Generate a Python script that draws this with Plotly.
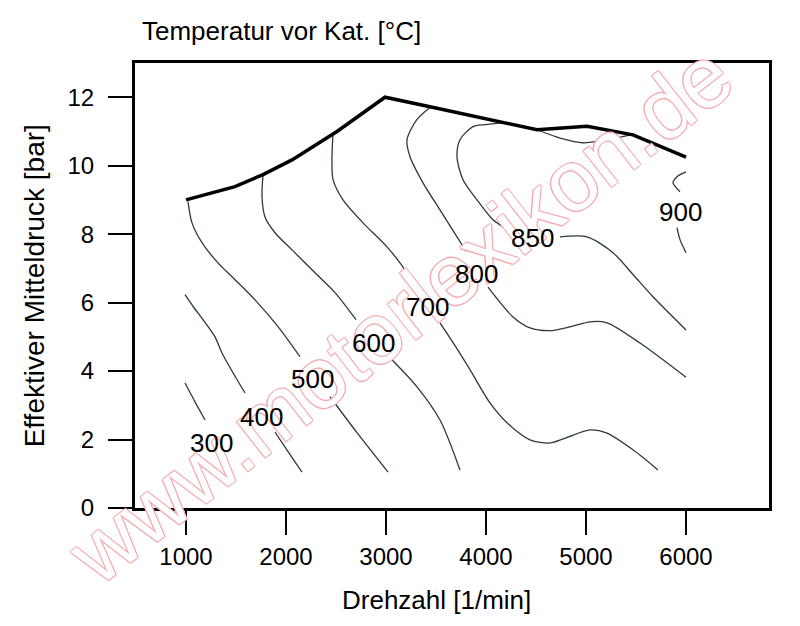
import plotly.graph_objects as go

# Kennfeld: Abgastemperatur vor Katalysator
# Volllastlinie
vl_rpm = [1000, 1490, 1770, 2060, 2510, 2990, 3440, 4510, 5010, 5470, 6000]
vl_bar = [9.0, 9.39, 9.74, 10.17, 11.0, 12.0, 11.72, 11.05, 11.15, 10.9, 10.25]

# Isothermen (None = Lücke für Beschriftung)
c300_rpm = [990, 1090, 1190, None, 1390, 1460]
c300_bar = [3.65, 3.1, 2.57, None, 1.4, 1.05]

c400_rpm = [990, 1080, 1170, 1290, 1360, 1470, 1590, None, 1890, 2020, 2160]
c400_bar = [6.23, 5.85, 5.5, 5.0, 4.53, 3.95, 3.36, None, 2.22, 1.65, 1.05]

c500_rpm = [1020, 1060, 1160, 1320, 1490, 1690, 1920, 2140, None, 2440, 2710, 3020]
c500_bar = [8.95, 8.33, 7.75, 7.16, 6.67, 6.08, 5.3, 4.42, None, 3.25, 2.2, 1.05]

c600_rpm = [1770, 1760, 1790, 1890, 2060, 2290, 2490, 2700, None, 3040, 3310, 3540, 3740]
c600_bar = [9.72, 9.1, 8.5, 8.04, 7.54, 6.87, 6.29, 5.5, None, 4.39, 3.54, 2.57, 1.11]

c700_rpm = [2470, 2460, 2470, 2570, 2770, 3010, 3210, 3280, None, 3540, 3700, 3840,
            4040, 4210, 4440, 4640, 4800, 5040, 5210, 5470, 5720]
c700_bar = [10.93, 10.26, 9.6, 9.0, 8.33, 7.63, 6.87, 6.5, None, 5.41, 4.7, 4.04,
            3.07, 2.49, 1.99, 1.9, 2.05, 2.28, 2.19, 1.7, 1.11]

c800_rpm = [3440, 3310, 3210, 3240, 3370, 3540, 3710, 3800, None, 4020, 4270, 4440,
            4640, 4850, 5040, 5210, 5540, 6000]
c800_bar = [11.7, 11.35, 10.76, 10.26, 9.5, 8.71, 7.92, 7.5, None, 6.45, 5.58, 5.26,
            5.18, 5.3, 5.44, 5.41, 4.82, 3.82]

c850_rpm = [4170, 3990, 3870, 3740, 3710, 3770, 3910, 4070, 4170, None, 4740, 5010,
            5270, 5470, 5670, 6000]
c850_bar = [11.26, 11.2, 11.14, 10.76, 10.26, 9.59, 9.0, 8.42, 8.22, None, 7.92, 7.92,
            7.46, 6.82, 6.17, 5.2]

c850b_rpm = [4510, 4750, 4970, 5200, 5450]
c850b_bar = [11.05, 10.8, 10.67, 10.75, 10.9]

c900_rpm = [6000, 5910, 5870, 5940, None, 5910, 5940, 6000]
c900_bar = [9.82, 9.68, 9.5, 9.24, None, 8.19, 7.84, 7.46]

label_rpm = [1250, 1750, 2260, 2870, 3410, 3900, 4460, 5940]
label_bar = [1.9, 2.66, 3.77, 4.82, 5.88, 6.84, 7.88, 8.65]
label_txt = ["300", "400", "500", "600", "700", "800", "850", "900"]

x_ticks = [1000, 2000, 3000, 4000, 5000, 6000]
y_ticks = [0, 2, 4, 6, 8, 10, 12]

FONT = "Liberation Sans, Arial, Helvetica, sans-serif"
ISO_COLOR = "#2c3a38"
PINK = "#f4aab0"

fig = go.Figure()

contours = [
    (c300_rpm, c300_bar), (c400_rpm, c400_bar), (c500_rpm, c500_bar),
    (c600_rpm, c600_bar), (c700_rpm, c700_bar), (c800_rpm, c800_bar),
    (c850_rpm, c850_bar), (c850b_rpm, c850b_bar), (c900_rpm, c900_bar),
]
for xs, ys in contours:
    fig.add_trace(go.Scatter(
        x=xs, y=ys, mode="lines",
        line=dict(color=ISO_COLOR, width=1.3, shape="spline", smoothing=0.8),
        connectgaps=False, hoverinfo="skip", showlegend=False,
    ))

fig.add_trace(go.Scatter(
    x=vl_rpm, y=vl_bar, mode="lines",
    line=dict(color="black", width=3.5),
    hoverinfo="skip", showlegend=False,
))

annotations = [
    dict(text="Temperatur vor Kat. [°C]", xref="paper", yref="paper",
         x=0.008, y=1.072, xanchor="left", yanchor="middle",
         showarrow=False, font=dict(family=FONT, size=26)),
    dict(text="Drehzahl [1/min]", xref="x", yref="paper",
         x=3500, y=-0.207, xanchor="center", yanchor="middle",
         showarrow=False, font=dict(family=FONT, size=26)),
    dict(text="Effektiver Mitteldruck [bar]", xref="paper", yref="paper",
         x=-0.158, y=0.5, xanchor="center", yanchor="middle", textangle=-90,
         showarrow=False, font=dict(family=FONT, size=28)),
    # Wasserzeichen
    dict(text="www.motorlexikon.de", xref="paper", yref="paper",
         x=0.418, y=0.436, xanchor="center", yanchor="middle", textangle=-38,
         showarrow=False,
         font=dict(family=FONT, size=86, color="white",
                   shadow=f"1px 1px 0 {PINK}, -1px -1px 0 {PINK}, "
                          f"1px -1px 0 {PINK}, -1px 1px 0 {PINK}")),
]
# Isothermen-Beschriftung über dem Wasserzeichen
for lx, ly, lt in zip(label_rpm, label_bar, label_txt):
    annotations.append(dict(
        text=lt, x=lx, y=ly, xref="x", yref="y", showarrow=False,
        xanchor="center", yanchor="middle",
        font=dict(family=FONT, size=26, color="black"),
    ))

# the page body has an 8px margin, so the figure is a bit smaller than the window
fig.update_layout(
    width=784, height=610,
    margin=dict(l=127, r=23, t=55, b=110),
    paper_bgcolor="white", plot_bgcolor="white",
    font=dict(family=FONT, size=24, color="black"),
    xaxis=dict(
        range=[490, 6830], tickvals=x_ticks, ticks="outside", ticklen=24,
        tickwidth=2, tickcolor="black", showgrid=False, zeroline=False,
        showline=True, linewidth=3, linecolor="black", mirror=True,
        ticklabelstandoff=1,
    ),
    yaxis=dict(
        range=[0, 13], tickvals=y_ticks, ticks="outside", ticklen=24,
        tickwidth=2, tickcolor="black", showgrid=False, zeroline=False,
        showline=True, linewidth=3, linecolor="black", mirror=True,
        ticklabelstandoff=9,
    ),
    annotations=annotations,
)

fig.write_html("out.html")
